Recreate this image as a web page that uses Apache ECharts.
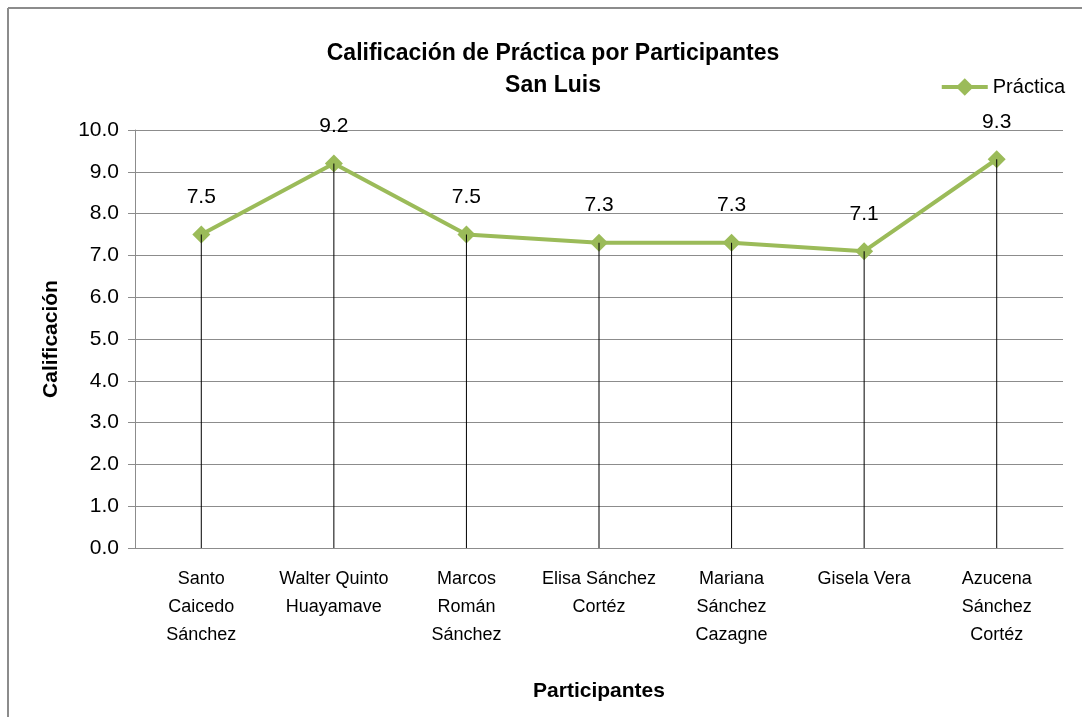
<!DOCTYPE html>
<html>
<head>
<meta charset="utf-8">
<script src="https://cdn.jsdelivr.net/npm/echarts@6/dist/echarts.min.js"></script>
<style>
  html, body { margin: 0; padding: 0; background: #fff; }
  #chart { width: 1082px; height: 717px; }
</style>
</head>
<body>
<div id="chart"></div>
<script>
const participants = [
  'Santo\nCaicedo\nSánchez',
  'Walter Quinto\nHuayamave',
  'Marcos\nRomán\nSánchez',
  'Elisa Sánchez\nCortéz',
  'Mariana\nSánchez\nCazagne',
  'Gisela Vera',
  'Azucena\nSánchez\nCortéz'
];
const practica = [7.5, 9.2, 7.5, 7.3, 7.3, 7.1, 9.3];
const yMin = 0, yMax = 10, yStep = 1;

const font = 'Liberation Sans, Arial, sans-serif';
const green = '#9BBB59';

const myChart = echarts.init(document.getElementById('chart'));

const option = {
  animation: false,
  textStyle: { fontFamily: font },
  title: {
    text: 'Calificación de Práctica por Participantes\nSan Luis',
    left: 548,
    top: 33,
    textAlign: 'center',
    textStyle: {
      fontFamily: font,
      fontSize: 23,
      fontWeight: 'bold',
      color: '#000',
      lineHeight: 32
    }
  },
  legend: {
    data: ['Práctica'],
    right: 12,
    top: 72,
    itemWidth: 46,
    itemHeight: 22,
    itemGap: 4,
    lineStyle: { width: 4 },
    textStyle: { fontFamily: font, fontSize: 20, color: '#000' }
  },
  grid: {
    left: 135,
    right: 19,
    top: 130,
    bottom: 169
  },
  xAxis: {
    type: 'category',
    data: participants,
    boundaryGap: true,
    name: 'Participantes',
    nameLocation: 'middle',
    nameGap: 133,
    nameTextStyle: { fontFamily: font, fontSize: 21, fontWeight: 'bold', color: '#000' },
    axisLine: { lineStyle: { color: '#8c8c8c', width: 1 } },
    axisTick: { show: false },
    axisLabel: {
      interval: 0,
      margin: 17,
      fontFamily: font,
      fontSize: 18,
      lineHeight: 28,
      color: '#000',
      verticalAlign: 'top'
    },
    splitLine: { show: false }
  },
  yAxis: {
    type: 'value',
    min: yMin,
    max: yMax,
    interval: yStep,
    name: 'Calificación',
    nameLocation: 'middle',
    nameGap: 73,
    nameRotate: 90,
    nameTextStyle: { fontFamily: font, fontSize: 21, fontWeight: 'bold', color: '#000' },
    axisLine: { show: true, lineStyle: { color: '#8c8c8c', width: 1 } },
    axisTick: { show: true, length: 7, inside: false, lineStyle: { color: '#8c8c8c' } },
    axisLabel: {
      fontFamily: font,
      fontSize: 21,
      color: '#000',
      margin: 16,
      formatter: v => v.toFixed(1)
    },
    splitLine: { show: true, lineStyle: { color: '#8c8c8c', width: 1 } }
  },
  graphic: [
    { type: 'line', shape: { x1: 8, y1: 8, x2: 1082, y2: 8 }, style: { stroke: '#8c8c8c', lineWidth: 2 } },
    { type: 'line', shape: { x1: 8, y1: 8, x2: 8, y2: 717 }, style: { stroke: '#8c8c8c', lineWidth: 2 } }
  ],
  series: [
    {
      name: 'Práctica',
      type: 'line',
      data: practica,
      symbol: 'diamond',
      symbolSize: 18,
      lineStyle: { color: green, width: 4 },
      itemStyle: { color: green },
      z: 3,
      label: {
        show: true,
        position: 'top',
        distance: 18,
        fontFamily: font,
        fontSize: 21,
        color: '#000',
        formatter: p => p.value.toFixed(1)
      }
    },
    {
      name: 'drop',
      type: 'bar',
      data: practica,
      barWidth: 1,
      itemStyle: { color: '#000' },
      silent: true,
      z: 4
    }
  ]
};

myChart.setOption(option);
</script>
</body>
</html>
